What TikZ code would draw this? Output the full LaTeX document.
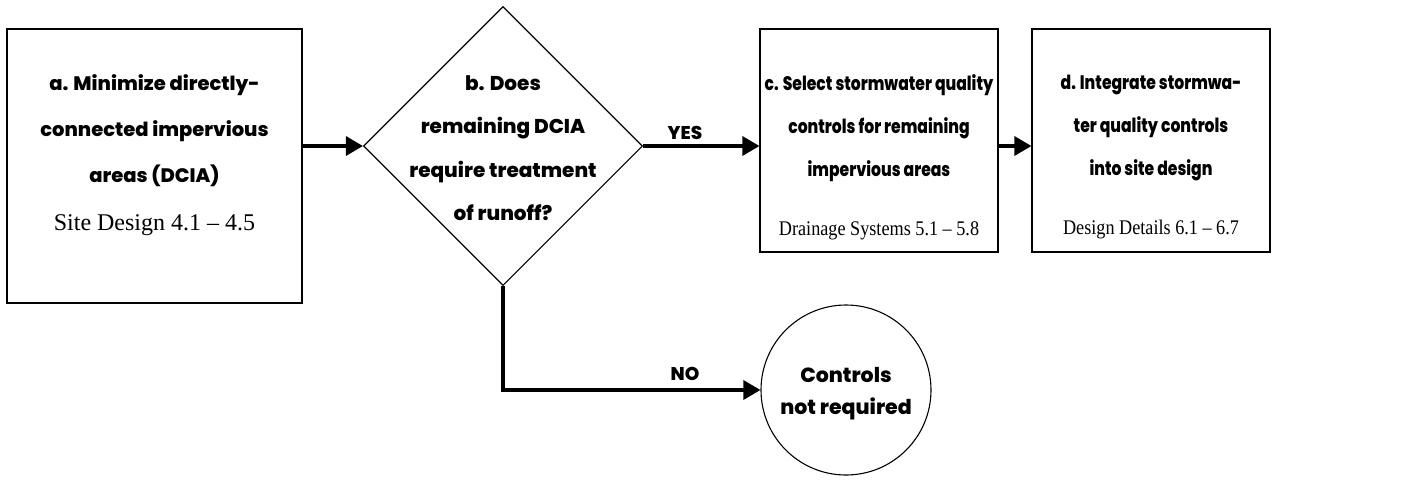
\documentclass[tikz,border=0pt]{standalone}
\usepackage{fontspec}
\setmainfont{Liberation Serif}
\setsansfont{Poppins}[BoldFont={Poppins ExtraBold}]
\newfontfamily\condsans{Poppins}[BoldFont={Poppins ExtraBold},FakeStretch=0.80]
\newfontfamily\condserif{Liberation Serif}[FakeStretch=0.875]
\usetikzlibrary{shapes.geometric,arrows.meta}
\newcommand\serifbig{\rmfamily\mdseries\fontsize{24}{27}\selectfont}
\newcommand\serifsmall{\condserif\mdseries\fontsize{20.8}{24}\selectfont}
\begin{document}
\begin{tikzpicture}[x=1pt,y=-1pt,
  shapeline/.style={draw=black,line width=1.1pt},
  boxnode/.style={shapeline,rectangle,inner sep=0pt},
  hv/.style={font=\sffamily\bfseries\fontsize{19.5}{46}\selectfont,align=center},
  hvb/.style={font=\sffamily\bfseries\fontsize{20}{43.5}\selectfont,align=center},
  hvc/.style={font=\condsans\bfseries\fontsize{19.5}{43}\selectfont,align=center},
  arr/.style={line width=3.2pt,-{Triangle[length=17pt,width=19pt]}},
  lbl/.style={font=\sffamily\bfseries\fontsize{18.5}{22}\selectfont}]
\useasboundingbox (0,0) rectangle (1413,480);
% shapes
\node[boxnode,minimum width=295pt,minimum height=274pt] (a) at (154.5,166) {};
\node[shapeline,diamond,minimum width=279pt,minimum height=279pt,inner sep=0pt] (b) at (503,146) {};
\node[boxnode,minimum width=238pt,minimum height=223pt] (c) at (879,140.5) {};
\node[boxnode,minimum width=238pt,minimum height=223pt] (d) at (1151,140.5) {};
\node[shapeline,circle,minimum size=170pt,inner sep=0pt] (e) at (846,390) {};
% texts
\node[hv] (at) at (154.5,155.5) {a. Minimize directly-\\connected impervious\\areas (DCIA)\\[2pt]{\serifbig Site Design 4.1 – 4.5}};
\node[hvb] (bt) at (503,148) {b. Does\\remaining DCIA\\require treatment\\of runoff?};
\node[hvc] (ct) at (879,157.5) {c. Select stormwater quality\\controls for remaining\\impervious areas\\[16pt]{\serifsmall Drainage Systems 5.1 – 5.8}};
\node[hvc] (dt) at (1151,157.5) {d. Integrate stormwa-\\ter quality controls\\into site design\\[16pt]{\serifsmall Design Details 6.1 – 6.7}};
\node[font=\sffamily\bfseries\fontsize{20.5}{32}\selectfont,align=center] (et) at (846,394) {Controls\\not required};
\node[lbl] (yes) at (685,133) {YES};
\node[lbl] (no) at (685,374) {NO};
% connectors
\draw[arr] (a.east |- b.west) -- (b.west);
\draw[arr] (b.east) -- (b.east -| c.west);
\draw[arr] (c.east |- b.east) -- (d.west |- b.east);
\draw[arr] (b.south) |- (e.west);
\end{tikzpicture}
\end{document}
